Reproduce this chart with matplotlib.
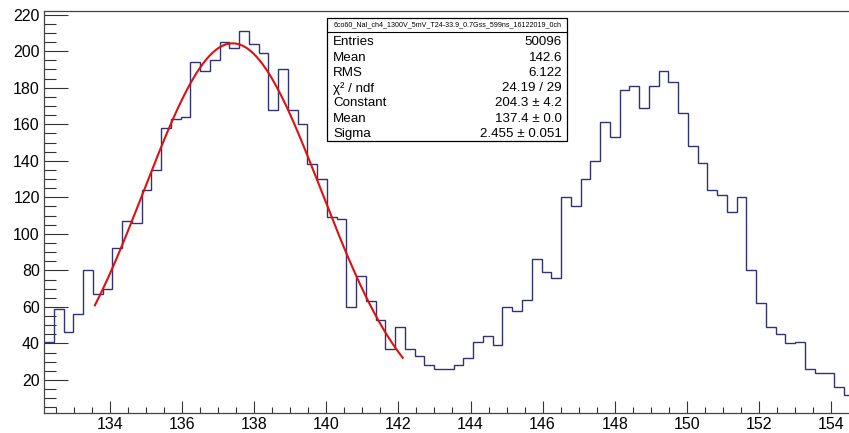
import numpy as np
import matplotlib
matplotlib.use("Agg")
import matplotlib.pyplot as plt
from matplotlib.patches import Rectangle
from matplotlib.ticker import MultipleLocator

plt.rcParams["font.family"] = ["Liberation Sans", "DejaVu Sans"]

# Histogram binning (lower edge of first bin and bin width)
BIN_LO = 132.169
BIN_WIDTH = 0.2706

# Counts per bin
counts = [41, 59, 46, 56, 80, 67, 70, 92, 107, 106,
          124, 135, 158, 163, 164, 194, 189, 195, 205, 202,
          211, 204, 199, 168, 190, 168, 160, 138, 130, 109,
          108, 60, 77, 63, 53, 37, 49, 37, 33, 28,
          26, 26, 28, 32, 41, 44, 39, 60, 58, 64,
          86, 79, 76, 120, 115, 130, 140, 161, 153, 179,
          181, 169, 181, 189, 183, 166, 148, 139, 124, 121,
          112, 120, 80, 62, 49, 45, 40, 41, 26, 24,
          24, 16, 12]

# Gaussian fit result
fit_constant = 204.3
fit_mean = 137.4
fit_sigma = 2.455
fit_range = (133.58, 142.12)

# Statistics box contents
stats_title = "6co60_NaI_ch4_1300V_5mV_T24-33.9_0.7Gss_599ns_16122019_0ch"
stats_labels = ["Entries", "Mean", "RMS", "\u03c7\u00b2 / ndf", "Constant", "Mean", "Sigma"]
stats_values = ["50096", "142.6", "6.122", "24.19 / 29",
                "204.3 \u00b1 4.2", "137.4 \u00b1 0.0", "2.455 \u00b1 0.051"]

x_ticks = [134, 136, 138, 140, 142, 144, 146, 148, 150, 152, 154]
y_ticks = [20, 40, 60, 80, 100, 120, 140, 160, 180, 200, 220]

W, H = 849, 433
fig = plt.figure(figsize=(W / 100, H / 100), dpi=100)
fig.patch.set_facecolor("white")

left_px, right_px, top_px, bottom_px = 44, 849, 11, 413.3
ax = fig.add_axes([left_px / W, (H - bottom_px) / H,
                   (right_px - left_px) / W, (bottom_px - top_px) / H])

edges = BIN_LO + BIN_WIDTH * np.arange(len(counts) + 1)
ax.stairs(counts, edges, baseline=None, color="#30336f", linewidth=1.0, zorder=2)

xf = np.linspace(fit_range[0], fit_range[1], 300)
yf = fit_constant * np.exp(-0.5 * ((xf - fit_mean) / fit_sigma) ** 2)
ax.plot(xf, yf, color="#dd1111", linewidth=1.5, zorder=3)

px_per_unit = 36.05
ax.set_xlim(BIN_LO, BIN_LO + (right_px - left_px) / px_per_unit)
ax.set_ylim(1.75, 222.0)

ax.set_xticks(x_ticks)
ax.set_yticks(y_ticks)
ax.xaxis.set_minor_locator(MultipleLocator(0.5))
ax.yaxis.set_minor_locator(MultipleLocator(5))

tick_col = "#333333"
ax.tick_params(axis="y", which="major", direction="in", length=17.3, width=0.8,
               color=tick_col, labelsize=11.5, pad=3)
ax.tick_params(axis="y", which="minor", direction="in", length=8.6, width=0.8, color=tick_col)
ax.tick_params(axis="x", which="major", direction="in", length=8.6, width=0.8,
               color=tick_col, labelsize=11.5, pad=3.0)
ax.tick_params(axis="x", which="minor", direction="in", length=4.3, width=0.8, color=tick_col)
ax.tick_params(top=False, right=False)

for side in ("left", "bottom", "top"):
    ax.spines[side].set_color("#444444")
    ax.spines[side].set_linewidth(0.9)
ax.spines["right"].set_visible(False)


def fx(x):
    return x / W


def fy(y):
    return 1 - y / H


# Statistics box
bx0, bx1, by0, by1 = 327.3, 567.0, 18.3, 141.0
box = Rectangle((fx(bx0), fy(by1)), fx(bx1) - fx(bx0), fy(by0) - fy(by1),
                transform=fig.transFigure, facecolor="white", edgecolor="black",
                linewidth=0.9, zorder=10)
fig.add_artist(box)
sep_y = 31.7
fig.add_artist(plt.Line2D([fx(bx0), fx(bx1)], [fy(sep_y), fy(sep_y)],
                          transform=fig.transFigure, color="black", linewidth=0.8, zorder=11))

title = fig.text(fx((bx0 + bx1) / 2), fy(25.2), stats_title, ha="center", va="center",
                 fontsize=5.0, zorder=12)
fig.canvas.draw()
tw = title.get_window_extent().width
title.set_fontsize(5.0 * 230.0 / tw)

row0, row_step = 42.3, 15.3
for i, (lab, val) in enumerate(zip(stats_labels, stats_values)):
    yy = fy(row0 + i * row_step)
    fig.text(fx(333.0), yy, lab, ha="left", va="center", fontsize=9.6, zorder=12)
    fig.text(fx(562.0), yy, val, ha="right", va="center", fontsize=9.6, zorder=12)

fig.savefig("out.png", dpi=100, facecolor="white")
